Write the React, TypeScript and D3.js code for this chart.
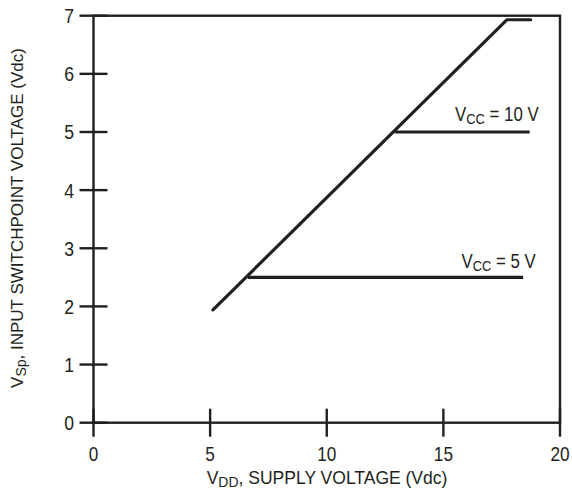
import React from "react";
import * as d3 from "d3";

const xTicks = [0, 5, 10, 15, 20];
const yTicks = [0, 1, 2, 3, 4, 5, 6, 7];

// V_SP vs V_DD: rising diagonal then flat
const diagX = [5.12, 17.72, 18.74];
const diagY = [1.94, 6.93, 6.93];
const vcc10X = [12.92, 18.7];
const vcc10Y = [5.0, 5.0];
const vcc5X = [6.62, 18.42];
const vcc5Y = [2.5, 2.5];

const FONT = "'Liberation Sans', Arial, sans-serif";
const INK = "#231f20";
const SX = 0.86;

export default function App() {
  const W = 572, H = 498;
  const x = d3.scaleLinear().domain([0, 20]).range([93.5, 560]);
  const y = d3.scaleLinear().domain([0, 7]).range([422.7, 15.7]);
  const line = d3.line<[number, number]>().x(d => x(d[0])).y(d => y(d[1]));
  const pts = (xs: number[], ys: number[]) => xs.map((v, i) => [v, ys[i]] as [number, number]);

  return (
    <svg width={W} height={H} style={{ position: "absolute", left: 0, top: 0, background: "#fff" }} fontFamily={FONT}>
      <rect x={0} y={0} width={W} height={H} fill="#fff" />
      {/* frame */}
      <rect x={x(0)} y={y(7)} width={x(20) - x(0)} height={y(0) - y(7)} fill="none" stroke={INK} strokeWidth={2.4} />
      {/* y ticks */}
      {yTicks.map(t => (
        <g key={"y" + t}>
          <line x1={x(0) - 14} x2={x(0) + 14} y1={y(t)} y2={y(t)} stroke={INK} strokeWidth={2.4} />
          <g transform={`translate(74,${y(t)}) scale(${SX},1)`}>
            <text x={0} y={0} dy="0.36em" textAnchor="end" fontSize={20.5} fill={INK}>{t}</text>
          </g>
        </g>
      ))}
      {/* x ticks */}
      {xTicks.map(t => (
        <g key={"x" + t}>
          <line x1={x(t)} x2={x(t)} y1={y(0) - 14} y2={y(0) + 14} stroke={INK} strokeWidth={2.4} />
          <g transform={`translate(${x(t)},461) scale(${SX},1)`}>
            <text x={0} y={0} textAnchor="middle" fontSize={20} fill={INK}>{t}</text>
          </g>
        </g>
      ))}
      {/* data lines */}
      <path d={line(pts(diagX, diagY)) || ""} fill="none" stroke={INK} strokeWidth={3.2} strokeLinecap="round" strokeLinejoin="round" />
      <path d={line(pts(vcc10X, vcc10Y)) || ""} fill="none" stroke={INK} strokeWidth={3.2} />
      <path d={line(pts(vcc5X, vcc5Y)) || ""} fill="none" stroke={INK} strokeWidth={3.2} />
      {/* series labels */}
      <g transform={`translate(455,121) scale(${SX},1)`}>
        <text x={0} y={0} fontSize={19.6} fill={INK}>
          V<tspan fontSize={15} dy={2.5}>CC</tspan><tspan dy={-2.5}> = 10 V</tspan>
        </text>
      </g>
      <g transform={`translate(461.5,268) scale(${SX},1)`}>
        <text x={0} y={0} fontSize={19.6} fill={INK}>
          V<tspan fontSize={15} dy={2.5}>CC</tspan><tspan dy={-2.5}> = 5 V</tspan>
        </text>
      </g>
      {/* axis titles */}
      <text x={327} y={484} textAnchor="middle" fontSize={17.5} fill={INK}>
        V<tspan fontSize={14} dy={3}>DD</tspan><tspan dy={-3}>, SUPPLY VOLTAGE (Vdc)</tspan>
      </text>
      <text transform="translate(23,218) rotate(-90)" textAnchor="middle" fontSize={17} fill={INK}>
        V<tspan fontSize={14} dy={3}>Sp</tspan><tspan dy={-3}>, INPUT SWITCHPOINT VOLTAGE (Vdc)</tspan>
      </text>
    </svg>
  );
}
